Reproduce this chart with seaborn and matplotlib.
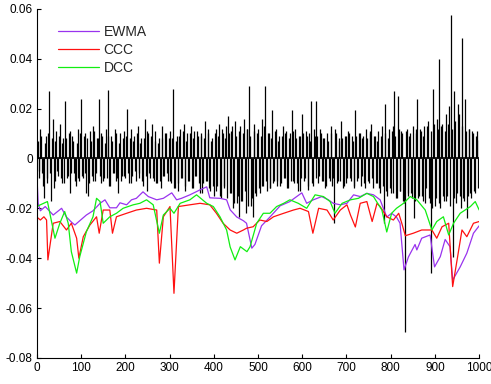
import numpy as np
import pandas as pd
import matplotlib
matplotlib.use("Agg")
import matplotlib.pyplot as plt
import seaborn as sns

# ---- data: returns in units of 1e-3 ----
# main values on days 0,4,8,...; intermediate values on days 2,6,10,...
ret_step = 4
returns_e3 = [
    5, -8, 12, -6, -16, 9, -10, 27, -17, 16, -9, 11, -7, 14, -10, 8, 23, -8, 10, -14, 9, -6, -11, 12, -9,
    24, -8, 10, -14, -15, 11, -7, 13, -9, 8, 24, -10, 9, -8, 12, 27.5, -11, 9, -6, 12, -9, -14, 10, -7, 11,
    -8, 20, -10, 12, -7, 9, -9, 13, -6, 8, -11, 16, -13, 10, -8, 14, -9, 11, -10, 8, -12, 13, -7, 10, -9,
    11, -10, 28, -12, 9, -13, 12, -8, 14, -11, 10, -9, 13, -12, 11, -7, 9, -14, 10, -10, 15, -9, 12, -13, 8,
    -15, 12, -11, 14, -16, 10, -12, 13, 17, -14, 11, -20, 15, -18, -23.5, 13, -17, 16, -22, 12, 29, -19, -23.5, 14, -15,
    12, -14, 16, -11, 29, -13, 10, -12, 19.5, -9, 12, -11, 9, -10, 13, -8, 11, -12, 10, 19.5, -9, 12, -10, 9, -13,
    18, -9, 11, -12.6, 10, 23, -11, 9, 23, -10, 12, -9, 8, -12, 10, -8, 13, -11, -26, 10, -9, 8, 15, -12, 9,
    -10, 11, -8, 9, -12, 19.5, -9, 10, -11, 8, -10, 12, -9, 10, 14, -12, 9, -10, 11, -14, 13, -26, 22, -15, 12,
    -14, 13, 27, -16, 25, -13, 11, -17, -69.6, 12, -14, 10, -16, -24, 12, 24, -15, 11, -17, 13, -12, 15, -18, -46, 28,
    -19, 16, 40, -20, 14, -17, 18, -15, 21, 57.7, -39.5, 27, -18, 22, -15, 48.5, -16, 24, -24, 12, -14, 11, -13, 9, 7.5,
]
returns_mid_e3 = [
    7, -5, 9, -11, 6, -8, 10, -6, 8, -12, 7, -5, 9, -8, 6, -10, 8, -7, 11, -6, 7, -9, 6, -8, 10,
    -7, 9, -6, 8, -10, 7, -9, 11, -6, 8, -7, 10, -9, 6, -8, 9, -11, 7, -6, 10, -8, 6, -9, 8, -7,
    9, -6, 8, -10, 7, -5, 10, -8, 6, -9, 8, -7, 11, -6, 9, -8, 7, -10, 6, -9, 8, -7, 10, -6, 8,
    -9, 8, -12, 7, -10, 9, -8, 11, -13, 7, -9, 10, -12, 8, -7, 11, -10, 9, -14, 8, -9, 10, -12, 7, -11,
    10, -13, 9, -15, 12, -11, 8, -16, 10, -14, 13, -18, 9, -15, 11, -17, 10, -13, 12, -19, 9, -16, 11, -14, 10,
    -12, 9, -11, 13, -9, 10, -12, 8, -10, 11, -9, 7, -11, 9, -8, 10, -12, 8, -9, 11, -10, 8, -13, 9, -8,
    10, -8, 9, -11, 7, -10, 12, -8, 9, -7, 10, -9, 8, -11, 7, -9, 10, -8, 12, -10, 7, -9, 8, -11, 9,
    -8, 10, -9, 7, -11, 9, -8, 10, -7, 9, -12, 8, -10, 11, -8, 9, -10, 7, -12, 9, -11, 10, -13, 8, -12,
    11, -14, 9, -16, 12, -13, 10, -18, 11, -15, 9, -14, 13, -17, 10, -16, 12, -15, 9, -18, 13, -16, 11, -20, 14,
    -16, 12, -18, 13, -15, 11, -17, 14, -19, 12, -16, 15, -14, 18, -20, 13, -17, 11, -15, 12, -16, 10, -14, 11, -12,
]

ewma_x = [0, 3, 8, 19, 37, 56, 67, 78, 86, 97, 112, 127, 143, 154, 165, 180, 188, 203, 214, 225, 240, 252,
          271, 286, 305, 316, 327, 346, 369, 384, 391, 414, 429, 437, 452, 467, 474, 486, 493, 508, 527, 550,
          572, 599, 610, 625, 644, 659, 670, 686, 701, 716, 731, 746, 761, 776, 791, 802, 813, 821, 830, 840,
          855, 859, 870, 889, 899, 912, 923, 934, 940, 957, 972, 987, 1000]
ewma_v = [-6.0, -18.0, -21.0, -19.3, -22.7, -20.0, -23.5, -25.5, -26.7, -25.0, -22.7, -21.0, -18.0, -16.6, -19.8,
          -19.8, -17.8, -18.6, -16.6, -16.0, -13.4, -15.3, -16.6, -16.0, -13.8, -16.6, -16.0, -14.6, -12.6, -11.4,
          -15.8, -16.0, -16.6, -20.6, -23.5, -25.0, -26.0, -36.0, -34.5, -27.0, -23.5, -19.0, -17.3, -13.8, -18.0,
          -16.6, -15.3, -16.6, -18.0, -18.6, -18.0, -14.6, -15.3, -14.0, -14.6, -16.6, -23.5, -22.0, -23.5, -26.0,
          -44.7, -39.5, -34.5, -36.7, -32.0, -30.7, -43.5, -39.4, -32.5, -35.4, -48.8, -43.5, -38.0, -30.0, -27.0]

ccc_x = [0, 8, 16, 22, 25, 37, 52, 67, 78, 90, 95, 105, 120, 135, 141, 150, 165, 171, 180, 203, 225, 248,
         271, 277, 286, 301, 310, 320, 346, 369, 391, 406, 421, 437, 452, 467, 474, 489, 504, 520, 535, 558,
         580, 595, 614, 624, 637, 656, 670, 686, 701, 709, 720, 731, 746, 758, 769, 776, 791, 806, 818, 825,
         833, 851, 870, 893, 904, 916, 931, 940, 950, 961, 972, 987, 1000]
ccc_v = [-23.5, -24.7, -23.4, -24.7, -40.7, -26.0, -25.3, -28.7, -26.0, -32.0, -40.0, -31.4, -26.7, -23.4, -30.0,
         -20.7, -20.7, -30.0, -23.4, -22.0, -20.7, -20.0, -20.7, -42.0, -23.4, -19.3, -54.1, -19.3, -18.6, -18.0,
         -18.6, -22.0, -26.0, -28.7, -30.0, -28.7, -28.0, -27.4, -24.7, -25.3, -23.4, -22.0, -20.7, -20.0, -21.3,
         -30.0, -20.0, -20.7, -24.7, -20.7, -18.6, -22.7, -27.5, -18.0, -17.3, -25.3, -18.0, -19.3, -23.4, -24.7,
         -22.0, -26.0, -31.0, -30.0, -28.7, -28.7, -32.0, -27.4, -26.0, -51.4, -40.7, -28.7, -31.4, -26.0, -25.3]

dcc_x = [0, 8, 24, 41, 52, 63, 71, 78, 90, 97, 112, 127, 135, 143, 150, 165, 180, 195, 218, 233, 248, 263,
         277, 286, 301, 310, 324, 346, 361, 384, 399, 414, 429, 437, 448, 460, 475, 482, 497, 512, 527, 542,
         558, 572, 591, 610, 629, 648, 663, 674, 690, 709, 727, 746, 761, 780, 791, 802, 813, 829, 844, 859,
         878, 893, 904, 919, 931, 942, 957, 980, 991, 1000]
dcc_v = [-19.3, -18.6, -17.3, -32.0, -26.0, -21.3, -26.0, -37.4, -46.0, -39.4, -29.4, -23.4, -16.0, -17.3, -26.0,
         -23.4, -22.0, -20.0, -18.6, -18.0, -16.6, -18.6, -30.0, -22.7, -20.0, -22.0, -18.0, -16.6, -14.6, -18.0,
         -19.3, -23.4, -28.7, -35.5, -40.7, -35.4, -37.4, -35.4, -26.0, -22.0, -22.0, -19.3, -18.0, -16.6, -18.0,
         -20.0, -14.6, -15.3, -17.3, -22.0, -18.0, -16.6, -16.0, -14.0, -15.3, -20.7, -29.5, -22.0, -20.0, -18.0,
         -15.3, -16.6, -20.7, -28.7, -25.3, -23.4, -30.7, -26.0, -22.0, -19.3, -17.3, -20.7]

y_ticks = [-0.08, -0.06, -0.04, -0.02, 0.0, 0.02, 0.04, 0.06]
y_tick_labels = ["-0.08", "-0.06", "-0.04", "-0.02", "0", "0.02", "0.04", "0.06"]
x_ticks = list(range(0, 1001, 100))

# ---- plot ----
sns.set_style("ticks")
plt.rcParams["font.family"] = ["Liberation Sans", "DejaVu Sans"]

fig = plt.figure(figsize=(4.91, 3.84), dpi=100)
ax = fig.add_axes([0.075, 0.068, 0.901, 0.909])

n = len(returns_e3)
ret_df = pd.concat([
    pd.DataFrame({"day": np.arange(n) * ret_step, "ret": np.array(returns_e3) / 1000.0}),
    pd.DataFrame({"day": np.arange(len(returns_mid_e3)) * ret_step + ret_step // 2,
                  "ret": np.array(returns_mid_e3) / 1000.0}),
]).sort_values("day").reset_index(drop=True)

ewma_df = pd.DataFrame({"day": ewma_x, "v": np.array(ewma_v) / 1000.0})
ccc_df = pd.DataFrame({"day": ccc_x, "v": np.array(ccc_v) / 1000.0})
dcc_df = pd.DataFrame({"day": dcc_x, "v": np.array(dcc_v) / 1000.0})

sns.lineplot(data=ewma_df, x="day", y="v", ax=ax, color="#9933ee", lw=0.9, label="EWMA", sort=False)
sns.lineplot(data=ccc_df, x="day", y="v", ax=ax, color="#ff1010", lw=0.9, label="CCC", sort=False)
sns.lineplot(data=dcc_df, x="day", y="v", ax=ax, color="#11ee11", lw=0.9, label="DCC", sort=False)

# returns drawn as dense spikes from zero
ax.vlines(ret_df["day"], 0, ret_df["ret"], color="black", lw=0.9, zorder=1.5)
ax.axhline(0, color="black", lw=1.2, zorder=1.5)

ax.set_xlim(0, 1000)
ax.set_ylim(-0.08, 0.06)
ax.set_xticks(x_ticks)
ax.set_yticks(y_ticks)
ax.set_yticklabels(y_tick_labels)
ax.set_xlabel("")
ax.set_ylabel("")
ax.tick_params(direction="in", length=3, labelsize=8.5, colors="black", pad=3)
for s in ["top", "right"]:
    ax.spines[s].set_visible(False)
for s in ["left", "bottom"]:
    ax.spines[s].set_linewidth(0.8)
    ax.spines[s].set_color("black")

leg = ax.legend(loc="upper left", frameon=False, fontsize=10, handlelength=2.95,
                bbox_to_anchor=(0.0475, 0.955), borderaxespad=0, borderpad=0,
                labelspacing=0.3, handletextpad=0.35)

fig.savefig("out.png", dpi=100)
